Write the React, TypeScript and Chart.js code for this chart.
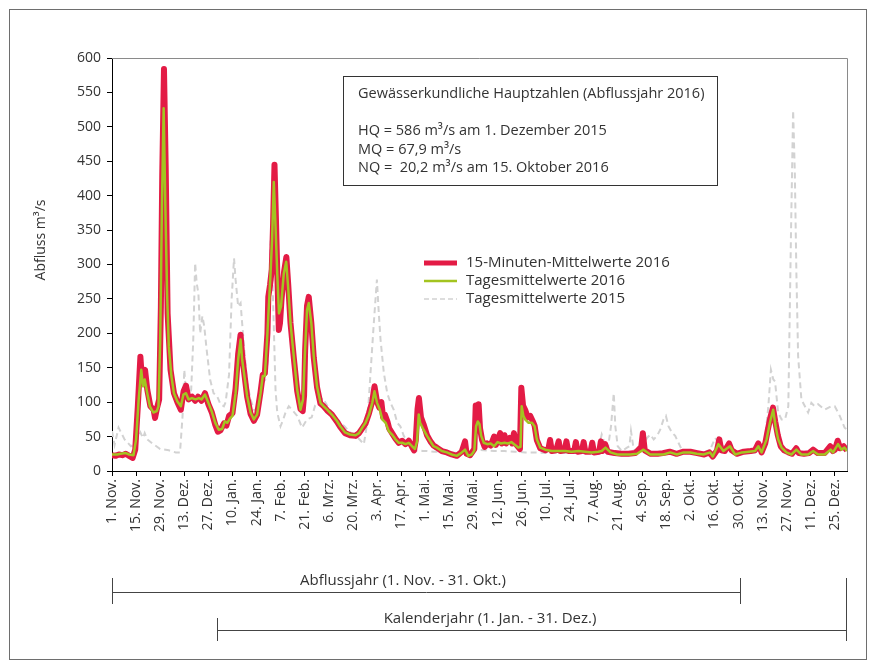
import { useEffect, useRef } from "react";
import { Chart, registerables } from "chart.js";

Chart.register(...registerables);

// Day offsets counted from 1 Nov 2015 (day 0)
const tickDays = [0, 14, 28, 42, 56, 70, 84, 98, 112, 126, 140, 154, 168, 182, 196, 210, 224, 238, 252, 266, 280, 294, 308, 322, 336, 350, 364, 378, 392, 406, 420];
const tickLabels = ["1. Nov.", "15. Nov.", "29. Nov.", "13. Dez.", "27. Dez.", "10. Jan.", "24. Jan.", "7. Feb.", "21. Feb.", "6. Mrz.", "20. Mrz.", "3. Apr.", "17. Apr.", "1. Mai.", "15. Mai.", "29. Mai.", "12. Jun.", "26. Jun.", "10. Jul.", "24. Jul.", "7. Aug.", "21. Aug.", "4. Sep.", "18. Sep.", "2. Okt.", "16. Okt.", "30. Okt.", "13. Nov.", "27. Nov.", "11. Dez.", "25. Dez."];

const hydroYear = { start: 0, end: 365, label: "Abflussjahr (1. Nov. - 31. Okt.)" };
const calYear = { start: 61, end: 427, label: "Kalenderjahr (1. Jan. - 31. Dez.)" };

const infoLines = [
  "Gewässerkundliche Hauptzahlen (Abflussjahr 2016)",
  "",
  "HQ = 586 m³/s am 1. Dezember 2015",
  "MQ = 67,9 m³/s",
  "NQ =  20,2 m³/s am 15. Oktober 2016",
];

const seriesNames = ["15-Minuten-Mittelwerte 2016", "Tagesmittelwerte 2016", "Tagesmittelwerte 2015"];

// [day, m³/s] – daily means 2016
const green2016: [number, number][] = [[0,24],[3,24],[5,25],[8,26],[10,24],[12.5,23],[14,46],[15.5,104],[17,147],[18,123],[19,133],[20.5,113],[22,94],[24,85],[26,87],[27,94],[28,190],[29,384],[30,527],[31,384],[32,258],[33,181],[34.5,138],[36,113],[38,101],[40,94],[41.5,111],[43,113],[44.5,104],[46.5,106],[48.5,104],[50.5,106],[52,104],[54,111],[56,99],[58,86],[60,70],[62,60],[64,61],[65.5,72],[67,70],[68.5,76],[70,80],[71.8,113],[73.3,162],[74.7,191],[75.6,162],[77.2,133],[78.5,109],[80.5,85],[82.4,75],[84.3,82],[86.3,113],[87.6,138],[88.8,138],[90.1,191],[91.1,239],[92.1,287],[93,336],[94,420],[95,355],[96,287],[97,229],[98.2,239],[99.8,287],[101.2,304],[102.3,268],[103.7,215],[105.6,167],[107.6,118],[109.5,89],[111,104],[112,167],[113.3,234],[114.3,244],[115.8,215],[117.2,167],[119.1,123],[121.1,99],[123,94],[125,89],[127.7,82],[130.6,73],[132.6,65],[135.4,56],[138.3,53],[141.5,52],[143.5,55],[145.4,63],[147.3,70],[149.3,82],[151.2,99],[152.5,116],[154,99],[155.6,89],[157,75],[159,70],[160.8,58],[162.7,53],[164.7,46],[166.6,41],[168.5,41],[170.5,39],[172.4,41],[174.3,36],[176,32],[177.2,43],[178.2,82],[179,70],[181,60],[183,51],[185,43],[186.8,36],[188.7,34],[191.6,29],[194.5,27],[197.4,24],[200.3,22],[203.2,27],[205.1,31],[207,22],[209,24],[210.5,30],[211.5,65],[212.5,72],[213.5,68],[214.5,51],[216,41],[218,39],[220,40],[222,36],[224,42],[226,40],[228,41],[230,40],[232,42],[234,38],[236,34],[237.3,35],[238,94],[239,80],[240,75],[242,70],[244,70],[245.5,65],[246.8,46],[248.8,34],[251.7,31],[255.5,29],[259.4,29],[263.3,29],[267,28],[271,29],[274.8,28],[278.7,27],[282.5,28],[284.5,29],[286.7,34],[289.6,27],[293.5,24],[297.3,24],[301.1,24],[305,25],[308.8,31],[312.7,24],[316.6,24],[320.4,24],[324.3,27],[328.2,24],[332.1,27],[335.9,27],[339.7,25],[343.6,24],[347.5,27],[349,21],[352.3,39],[355.2,29],[359,36],[362,24],[366,27],[370,28],[373.6,29],[375.5,36],[377.4,27],[380.3,46],[382.2,70],[384.1,89],[385.5,65],[387,46],[389,34],[391.8,27],[394.7,24],[397.6,31],[400.5,24],[404.4,24],[407.3,29],[410.2,24],[414,24],[417.5,31],[418.9,27],[421.8,39],[423.7,31],[425.6,34],[427,29]];

// [day, m³/s] – 15-minute means 2016
const red2016: [number, number][] = [[0,23],[2,22],[4,24],[6,23],[8,25],[10,22],[12,19],[13.5,31],[15,94],[16.5,166],[17.5,128],[18.5,140],[19.2,147],[20.5,118],[22.3,94],[24.2,89],[25,77],[26.2,92],[27.4,104],[28.4,239],[29.2,432],[30.2,584],[31.2,440],[32.3,229],[34,147],[36,113],[38,100],[40,89],[41.6,116],[43,124],[44.5,104],[46.5,108],[48.3,102],[50,108],[52,102],[54,113],[56,97],[58,85],[60,67],[61.5,57],[63,59],[65,69],[66.5,66],[68,80],[70,84],[71.8,120],[73.3,170],[74.7,198],[75.6,168],[77.2,135],[78.5,108],[80.5,83],[82.4,73],[84.3,82],[86.3,115],[87.6,140],[88.8,142],[90.3,200],[90.8,253],[91.8,270],[92.8,292],[93.6,360],[94.4,445],[95.2,370],[96,290],[96.9,205],[97.6,215],[98.5,250],[100,290],[101.3,311],[102.4,270],[103.7,215],[105.6,165],[107.6,116],[109.5,90],[110.8,87],[111.6,110],[112.2,175],[113.3,240],[114.3,253],[115.8,215],[117.2,165],[119.1,122],[121.1,98],[123,94],[125,88],[127.7,82],[130.6,72],[132.6,64],[135.4,55],[138.3,52],[141.5,51],[143.5,55],[145.4,62],[147.3,69],[149.3,84],[151.2,101],[152.5,123],[154,100],[155.3,92],[156.5,100],[157.5,78],[158.5,82],[160,72],[161,62],[162.7,55],[164.7,47],[166.6,41],[168.5,44],[170.5,39],[172.4,44],[174.3,35],[175.5,30],[176.5,45],[177.5,90],[178.3,106],[179.5,78],[181,68],[183,52],[185,43],[186.8,37],[188.7,34],[191.6,29],[194.5,27],[197.4,24],[200.3,22],[203.2,28],[205.1,43],[206,25],[208,23],[210.5,32],[211.3,95],[212.3,70],[213,97],[213.8,62],[215,45],[216.5,35],[218,40],[220,37],[222,50],[223,38],[224,44],[225.5,55],[226.5,40],[228,52],[229,40],[231,48],[232.5,40],[233.5,55],[235,38],[237,32],[237.8,121],[238.8,95],[240,89],[241.5,78],[243,80],[244.5,72],[245.5,66],[246.8,45],[248.8,33],[251.7,30],[253.5,32],[254.5,45],[255.5,29],[258,30],[259.5,43],[260.5,29],[263,30],[264,43],[265,29],[268.5,29],[269.5,42],[270.5,28],[273,29],[274,42],[275,28],[278,28],[279,41],[280,27],[283,28],[284,43],[285,29],[286.5,39],[288,28],[292,26],[296,25],[300,25],[304,26],[307.5,35],[308.4,55],[309.5,30],[313,25],[317,25],[320,26],[324,28],[328,25],[332,28],[336,28],[340,26],[344,24],[347,27],[349,21],[351.5,30],[352.8,46],[354,30],[356,29],[358.5,40],[360,30],[363,25],[367,28],[371,29],[373.5,30],[375.5,40],[377.4,27],[379.5,40],[381,60],[382.5,78],[384,92],[385.3,72],[386.8,52],[388.5,36],[390.5,30],[393,27],[395,25],[397.5,33],[399,26],[402,25],[405,26],[407.3,31],[410,26],[414,26],[417.3,36],[418.8,29],[420,31],[421.6,44],[423,33],[425,36],[427,30]];

// [day, m³/s] – daily means 2015 (previous year, same calendar days)
const gray2015: [number, number][] = [[0,58],[1.5,38],[3.8,63],[7.3,46],[11,36],[13.7,39],[16.5,56],[18,48],[19,55],[20.5,46],[24,39],[28,32],[33,30],[37,27],[39.5,27],[41,80],[42,147],[43,113],[44.5,110],[46,118],[47.2,190],[48.3,302],[49.2,273],[50.2,258],[51.2,200],[52.5,225],[53.6,210],[55,176],[57,133],[59,113],[61,109],[63,97],[65,94],[66,100],[68,140],[69.5,250],[70.9,309],[71.8,278],[73.3,239],[74.7,244],[75.6,215],[77.2,167],[78.5,128],[80.5,104],[82.4,89],[84.3,89],[86.3,109],[87.6,128],[89.2,133],[90.5,160],[91.5,280],[92.2,335],[93,300],[94,210],[95,118],[96,85],[97.9,65],[99.5,75],[100.8,85],[102.7,94],[104.6,89],[107.6,80],[110.4,63],[113.3,75],[116,78],[118,95],[120,100],[122.5,106],[125,95],[128,85],[131,75],[135,65],[139,55],[143,48],[146.3,39],[148.3,70],[150.2,143],[152.1,215],[153.9,278],[155,229],[156,191],[157.9,143],[159.9,113],[161.8,99],[163.7,89],[165.7,70],[167.5,65],[169.5,51],[171.5,43],[173.3,34],[175.3,29],[178,30],[180.5,29],[183,29],[187,28],[192,28],[197,27],[202,26],[207,27],[211,31],[216,30],[222,29],[228,29],[234,28],[240,27],[246,27],[252,26],[258,27],[264,26],[270,26],[276,27],[282,27],[284.5,53],[285.5,46],[286.5,31],[287.6,24],[289.9,65],[291.5,113],[292.4,65],[293.8,36],[296.3,29],[299.2,34],[300.6,36],[301.5,58],[303.1,31],[306,27],[307.9,34],[310.8,48],[312.7,53],[314.7,46],[316.6,51],[318.5,60],[320.4,75],[321.8,80],[323.3,65],[325.3,56],[327.2,51],[329.1,41],[331,31],[333,29],[336,27],[340,27],[344,27],[347.5,31],[350.4,48],[352.3,41],[355.2,36],[358,34],[362,27],[368,27],[374,27],[377.5,30],[379.4,46],[381.3,94],[382.8,147],[384.2,133],[385.2,130],[387,85],[389,75],[391,75],[392.9,94],[394.4,336],[395.7,524],[396.7,432],[397.6,287],[398.6,167],[400.5,104],[404.4,85],[406.3,99],[408.2,94],[410.2,97],[414,89],[417.9,94],[419.9,94],[422.8,80],[425.6,63],[427,60]];

const RED = "#e31b45";
const GREEN = "#a3c420";
const GRAY = "#d2d2d2";
const TEXT = "#333333";
const FONT = "'Open Sans', 'Noto Sans', sans-serif";

const toXY = (s: [number, number][]) => s.map(([x, y]) => ({ x, y }));

const overlayPlugin = {
  id: "overlay",
  beforeDraw(chart: any) {
    const { ctx, width, height } = chart;
    ctx.save();
    ctx.fillStyle = "#ffffff";
    ctx.fillRect(0, 0, width, height);
    ctx.restore();
  },
  afterDraw(chart: any) {
    const { ctx, chartArea: a, scales } = chart;
    const x = scales.x;
    ctx.save();
    // outer frame
    ctx.strokeStyle = "#6e6e6e";
    ctx.lineWidth = 1;
    ctx.strokeRect(9.5, 9.5, 857, 650);
    // plot area top/right border
    ctx.strokeStyle = "#8a8a8a";
    ctx.beginPath();
    ctx.moveTo(a.left, Math.round(a.top) + 0.5);
    ctx.lineTo(Math.round(a.right) + 0.5, Math.round(a.top) + 0.5);
    ctx.lineTo(Math.round(a.right) + 0.5, a.bottom);
    ctx.stroke();

    ctx.fillStyle = TEXT;
    ctx.font = `14px ${FONT}`;
    ctx.textBaseline = "middle";

    // y axis title
    ctx.save();
    ctx.translate(41, 240);
    ctx.rotate(-Math.PI / 2);
    ctx.textAlign = "center";
    ctx.fillText("Abfluss m³/s", 0, 0);
    ctx.restore();

    // info box
    ctx.font = `14.5px ${FONT}`;
    ctx.strokeStyle = "#333";
    ctx.lineWidth = 1;
    ctx.strokeRect(343.5, 76.5, 374, 109);
    ctx.textAlign = "left";
    const lineY = [94, 112, 131, 149.5, 168];
    infoLines.forEach((t, i) => {
      if (t) ctx.fillText(t, 358, lineY[i]);
    });

    // legend
    ctx.font = `15px ${FONT}`;
    const legY = [263, 281, 299];
    const lx0 = 424, lx1 = 457;
    ctx.lineCap = "butt";
    ctx.strokeStyle = RED; ctx.lineWidth = 5;
    ctx.beginPath(); ctx.moveTo(lx0, legY[0]); ctx.lineTo(lx1, legY[0]); ctx.stroke();
    ctx.strokeStyle = GREEN; ctx.lineWidth = 2.5;
    ctx.beginPath(); ctx.moveTo(lx0, legY[1]); ctx.lineTo(lx1, legY[1]); ctx.stroke();
    ctx.strokeStyle = GRAY; ctx.lineWidth = 1.5; ctx.setLineDash([5, 3]);
    ctx.beginPath(); ctx.moveTo(lx0, legY[2]); ctx.lineTo(lx1, legY[2]); ctx.stroke();
    ctx.setLineDash([]);
    seriesNames.forEach((n, i) => ctx.fillText(n, 466, legY[i]));

    // year brackets
    ctx.strokeStyle = "#444";
    ctx.lineWidth = 1;
    const hx0 = Math.round(x.getPixelForValue(hydroYear.start)) + 0.5;
    const hx1 = Math.round(x.getPixelForValue(hydroYear.end)) + 0.5;
    const cx0 = Math.round(x.getPixelForValue(calYear.start)) + 0.5;
    const cx1 = Math.round(x.getPixelForValue(calYear.end)) - 0.5;
    const hy = 592.5, cy = 630.5;
    ctx.beginPath();
    ctx.moveTo(hx0, hy); ctx.lineTo(hx1, hy);
    ctx.moveTo(hx0, 578); ctx.lineTo(hx0, 604);
    ctx.moveTo(hx1, 578); ctx.lineTo(hx1, 604);
    ctx.moveTo(cx0, cy); ctx.lineTo(cx1, cy);
    ctx.moveTo(cx0, 618); ctx.lineTo(cx0, 641);
    ctx.moveTo(cx1, 578); ctx.lineTo(cx1, 641);
    ctx.stroke();
    ctx.textAlign = "center";
    ctx.font = `15px ${FONT}`;
    ctx.fillText(hydroYear.label, 403, 581);
    ctx.fillText(calYear.label, 490, 619);
    ctx.restore();
  },
};

export default function App() {
  const ref = useRef<HTMLCanvasElement | null>(null);
  useEffect(() => {
    if (!ref.current) return;
    const chart = new Chart(ref.current, {
      type: "line",
      data: {
        datasets: [
          { label: seriesNames[1], data: toXY(green2016), borderColor: GREEN, borderWidth: 2.5, pointRadius: 0, tension: 0, order: 1, borderJoinStyle: "round" },
          { label: seriesNames[0], data: toXY(red2016), borderColor: RED, borderWidth: 6, pointRadius: 0, tension: 0, order: 2, borderJoinStyle: "round" },
          { label: seriesNames[2], data: toXY(gray2015), borderColor: GRAY, borderWidth: 2, borderDash: [6, 4], pointRadius: 0, tension: 0, order: 3 },
        ],
      },
      options: {
        responsive: false,
        animation: false,
        layout: { padding: { left: 0, top: 58, right: 29, bottom: 0 } },
        plugins: { legend: { display: false }, tooltip: { enabled: false } },
        scales: {
          x: {
            type: "linear",
            min: 0,
            max: 427,
            afterBuildTicks: (axis: any) => { axis.ticks = tickDays.map((v) => ({ value: v })); },
            afterFit: (s: any) => { s.height = 196; },
            ticks: {
              autoSkip: false,
              minRotation: 90,
              maxRotation: 90,
              padding: 3,
              color: TEXT,
              font: { family: FONT, size: 14 },
              callback: (v: any) => { const i = tickDays.indexOf(Number(v)); return i >= 0 ? tickLabels[i] : ""; },
            },
            grid: { drawOnChartArea: false, drawTicks: true, tickLength: 5, color: "#000" },
            border: { display: true, color: "#000", width: 1 },
          },
          y: {
            min: 0,
            max: 600,
            afterFit: (s: any) => { s.width = 112; },
            ticks: { stepSize: 50, padding: 6, color: TEXT, font: { family: FONT, size: 14 } },
            grid: { drawOnChartArea: false, drawTicks: true, tickLength: 5, color: "#000" },
            border: { display: true, color: "#000", width: 1 },
          },
        },
      },
      plugins: [overlayPlugin],
    } as any);
    return () => chart.destroy();
  }, []);
  return (
    <div style={{ position: "absolute", left: 0, top: 0, width: 876, height: 667, background: "#fff" }}>
      <canvas ref={ref} width={876} height={667} style={{ display: "block" }} />
    </div>
  );
}
